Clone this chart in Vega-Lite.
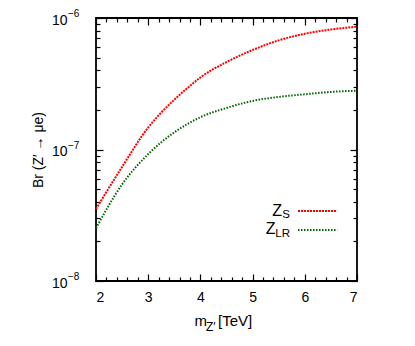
{
  "$schema": "https://vega.github.io/schema/vega-lite/v6.json",
  "width": 261,
  "height": 263,
  "autosize": {"type": "none"},
  "padding": {"left": 96, "top": 18, "right": 58, "bottom": 65},
  "background": "white",
  "config": {
    "view": {"stroke": "black", "strokeWidth": 1.8},
    "font": "Liberation Sans",
    "axis": {
      "domain": false, "grid": false, "tickColor": "black", "tickWidth": 1.2,
      "labelColor": "black", "labelFont": "Liberation Sans", "labelFontSize": 14,
      "titleFont": "Liberation Sans", "titleFontSize": 14, "titleFontWeight": "normal", "titleColor": "black"
    }
  },
  "datasets": {
    "curves": [
      {"m": 2.0, "br": 3.53e-8, "s": "ZS"},
      {"m": 2.5, "br": 7.38e-8, "s": "ZS"},
      {"m": 3.0, "br": 1.47e-7, "s": "ZS"},
      {"m": 3.25, "br": 1.91e-7, "s": "ZS"},
      {"m": 3.5, "br": 2.39e-7, "s": "ZS"},
      {"m": 3.75, "br": 2.93e-7, "s": "ZS"},
      {"m": 4.0, "br": 3.53e-7, "s": "ZS"},
      {"m": 4.5, "br": 4.62e-7, "s": "ZS"},
      {"m": 5.0, "br": 5.71e-7, "s": "ZS"},
      {"m": 5.5, "br": 6.76e-7, "s": "ZS"},
      {"m": 6.0, "br": 7.59e-7, "s": "ZS"},
      {"m": 6.5, "br": 8.17e-7, "s": "ZS"},
      {"m": 7.0, "br": 8.59e-7, "s": "ZS"},
      {"m": 2.0, "br": 2.52e-8, "s": "ZLR"},
      {"m": 2.5, "br": 5.43e-8, "s": "ZLR"},
      {"m": 3.0, "br": 9.23e-8, "s": "ZLR"},
      {"m": 3.5, "br": 1.35e-7, "s": "ZLR"},
      {"m": 4.0, "br": 1.76e-7, "s": "ZLR"},
      {"m": 4.5, "br": 2.07e-7, "s": "ZLR"},
      {"m": 5.0, "br": 2.34e-7, "s": "ZLR"},
      {"m": 5.5, "br": 2.51e-7, "s": "ZLR"},
      {"m": 6.0, "br": 2.63e-7, "s": "ZLR"},
      {"m": 6.5, "br": 2.74e-7, "s": "ZLR"},
      {"m": 7.0, "br": 2.80e-7, "s": "ZLR"}
    ],
    "legendlines": [
      {"m": 5.87, "br": 3.41e-8, "s": "ZS"},
      {"m": 6.62, "br": 3.41e-8, "s": "ZS"},
      {"m": 5.87, "br": 2.44e-8, "s": "ZLR"},
      {"m": 6.62, "br": 2.44e-8, "s": "ZLR"}
    ],
    "legendtext": [
      {"m": 5.716, "br": 3.41e-8, "main": "Z", "sub": "S"},
      {"m": 5.716, "br": 2.44e-8, "main": "Z", "sub": "LR"}
    ],
    "exponents": [
      {"m": 2, "br": 1e-8, "e": "−8"},
      {"m": 2, "br": 1e-7, "e": "−7"},
      {"m": 2, "br": 1e-6, "e": "−6"}
    ],
    "xtitle": [{"m": 4.5, "br": 1e-8}]
  },
  "layer": [
    {
      "data": {"name": "curves"},
      "mark": {"type": "line", "interpolate": "monotone", "strokeWidth": 2},
      "encoding": {
        "x": {"field": "m", "type": "quantitative", "scale": {"domain": [2, 7], "nice": false, "zero": false},
          "axis": {"orient": "bottom", "values": [2, 3, 4, 5, 6, 7], "tickSize": -7, "labelPadding": 16, "title": null}},
        "y": {"field": "br", "type": "quantitative", "scale": {"type": "log", "domain": [1e-8, 1e-6], "nice": false},
          "axis": {"orient": "left", "values": [1e-8, 1e-7, 1e-6], "tickSize": -7, "labelPadding": 36, "labelBaseline": "middle", "labelOffset": 2,
            "labelExpr": "'10'",
            "title": "Br (Z′ → μe)", "titlePadding": 6}},
        "color": {"field": "s", "type": "nominal", "scale": {"domain": ["ZS", "ZLR"], "range": ["#ff0000", "#006400"]}, "legend": null},
        "strokeDash": {"field": "s", "type": "nominal", "scale": {"domain": ["ZS", "ZLR"], "range": [[2, 1], [1.5, 1.5]]}, "legend": null}
      }
    },
    {
      "data": {"name": "curves"},
      "mark": {"type": "point", "opacity": 0},
      "encoding": {
        "x": {"field": "m", "type": "quantitative", "axis": {"orient": "top", "values": [2, 3, 4, 5, 6, 7], "tickSize": -7, "labels": false, "title": null}},
        "y": {"field": "br", "type": "quantitative", "scale": {"type": "log"}, "axis": {"orient": "right", "values": [1e-8, 1e-7, 1e-6], "tickSize": -7, "labels": false, "title": null}}
      }
    },
    {
      "data": {"name": "curves"},
      "mark": {"type": "point", "opacity": 0},
      "encoding": {
        "x": {"field": "m", "type": "quantitative", "axis": {"orient": "bottom", "values": [2.2, 2.4, 2.6, 2.8, 3.2, 3.4, 3.6, 3.8, 4.2, 4.4, 4.6, 4.8, 5.2, 5.4, 5.6, 5.8, 6.2, 6.4, 6.6, 6.8], "tickSize": -4, "labels": false, "title": null}},
        "y": {"field": "br", "type": "quantitative", "scale": {"type": "log"}, "axis": {"orient": "left", "values": [2e-8, 3e-8, 4e-8, 5e-8, 6e-8, 7e-8, 8e-8, 9e-8, 2e-7, 3e-7, 4e-7, 5e-7, 6e-7, 7e-7, 8e-7, 9e-7], "tickSize": -4, "labels": false, "title": null}}
      }
    },
    {
      "data": {"name": "curves"},
      "mark": {"type": "point", "opacity": 0},
      "encoding": {
        "x": {"field": "m", "type": "quantitative", "axis": {"orient": "top", "values": [2.2, 2.4, 2.6, 2.8, 3.2, 3.4, 3.6, 3.8, 4.2, 4.4, 4.6, 4.8, 5.2, 5.4, 5.6, 5.8, 6.2, 6.4, 6.6, 6.8], "tickSize": -4, "labels": false, "title": null}},
        "y": {"field": "br", "type": "quantitative", "scale": {"type": "log"}, "axis": {"orient": "right", "values": [2e-8, 3e-8, 4e-8, 5e-8, 6e-8, 7e-8, 8e-8, 9e-8, 2e-7, 3e-7, 4e-7, 5e-7, 6e-7, 7e-7, 8e-7, 9e-7], "tickSize": -4, "labels": false, "title": null}}
      }
    },
    {
      "data": {"name": "exponents"},
      "mark": {"type": "text", "align": "left", "baseline": "middle", "dx": -28, "dy": -4, "fontSize": 10, "color": "black"},
      "encoding": {
        "x": {"field": "m", "type": "quantitative", "axis": null},
        "y": {"field": "br", "type": "quantitative", "scale": {"type": "log"}, "axis": null},
        "text": {"field": "e"}
      }
    },
    {
      "data": {"name": "legendlines"},
      "mark": {"type": "line", "strokeWidth": 2},
      "encoding": {
        "x": {"field": "m", "type": "quantitative", "axis": null},
        "y": {"field": "br", "type": "quantitative", "scale": {"type": "log"}, "axis": null},
        "color": {"field": "s", "type": "nominal", "legend": null},
        "strokeDash": {"field": "s", "type": "nominal", "legend": null},
        "detail": {"field": "s"}
      }
    },
    {
      "data": {"name": "legendtext"},
      "transform": [{"filter": "datum.sub == 'S'"}],
      "mark": {"type": "text", "align": "right", "baseline": "alphabetic", "dx": -8, "dy": 5, "fontSize": 16, "color": "black"},
      "encoding": {
        "x": {"field": "m", "type": "quantitative", "axis": null},
        "y": {"field": "br", "type": "quantitative", "scale": {"type": "log"}, "axis": null},
        "text": {"field": "main"}
      }
    },
    {
      "data": {"name": "legendtext"},
      "transform": [{"filter": "datum.sub == 'LR'"}],
      "mark": {"type": "text", "align": "right", "baseline": "alphabetic", "dx": -14.5, "dy": 4, "fontSize": 16, "color": "black"},
      "encoding": {
        "x": {"field": "m", "type": "quantitative", "axis": null},
        "y": {"field": "br", "type": "quantitative", "scale": {"type": "log"}, "axis": null},
        "text": {"field": "main"}
      }
    },
    {
      "data": {"name": "legendtext"},
      "mark": {"type": "text", "align": "right", "baseline": "alphabetic", "dy": 7, "fontSize": 11.5, "color": "black"},
      "encoding": {
        "x": {"field": "m", "type": "quantitative", "axis": null},
        "y": {"field": "br", "type": "quantitative", "scale": {"type": "log"}, "axis": null},
        "text": {"field": "sub"}
      }
    },
    {
      "data": {"name": "xtitle"},
      "mark": {"type": "text", "text": "m", "align": "left", "baseline": "alphabetic", "dx": -32, "dy": 45, "fontSize": 15, "color": "black"},
      "encoding": {
        "x": {"field": "m", "type": "quantitative", "axis": null},
        "y": {"field": "br", "type": "quantitative", "scale": {"type": "log"}, "axis": null}
      }
    },
    {
      "data": {"name": "xtitle"},
      "mark": {"type": "text", "text": "Z′", "align": "left", "baseline": "alphabetic", "dx": -20.5, "dy": 50, "fontSize": 12, "color": "black"},
      "encoding": {
        "x": {"field": "m", "type": "quantitative", "axis": null},
        "y": {"field": "br", "type": "quantitative", "scale": {"type": "log"}, "axis": null}
      }
    },
    {
      "data": {"name": "xtitle"},
      "mark": {"type": "text", "text": "[TeV]", "align": "left", "baseline": "alphabetic", "dx": -8.5, "dy": 45, "fontSize": 15, "color": "black"},
      "encoding": {
        "x": {"field": "m", "type": "quantitative", "axis": null},
        "y": {"field": "br", "type": "quantitative", "scale": {"type": "log"}, "axis": null}
      }
    }
  ],
  "resolve": {"axis": {"x": "independent", "y": "independent"}}
}
